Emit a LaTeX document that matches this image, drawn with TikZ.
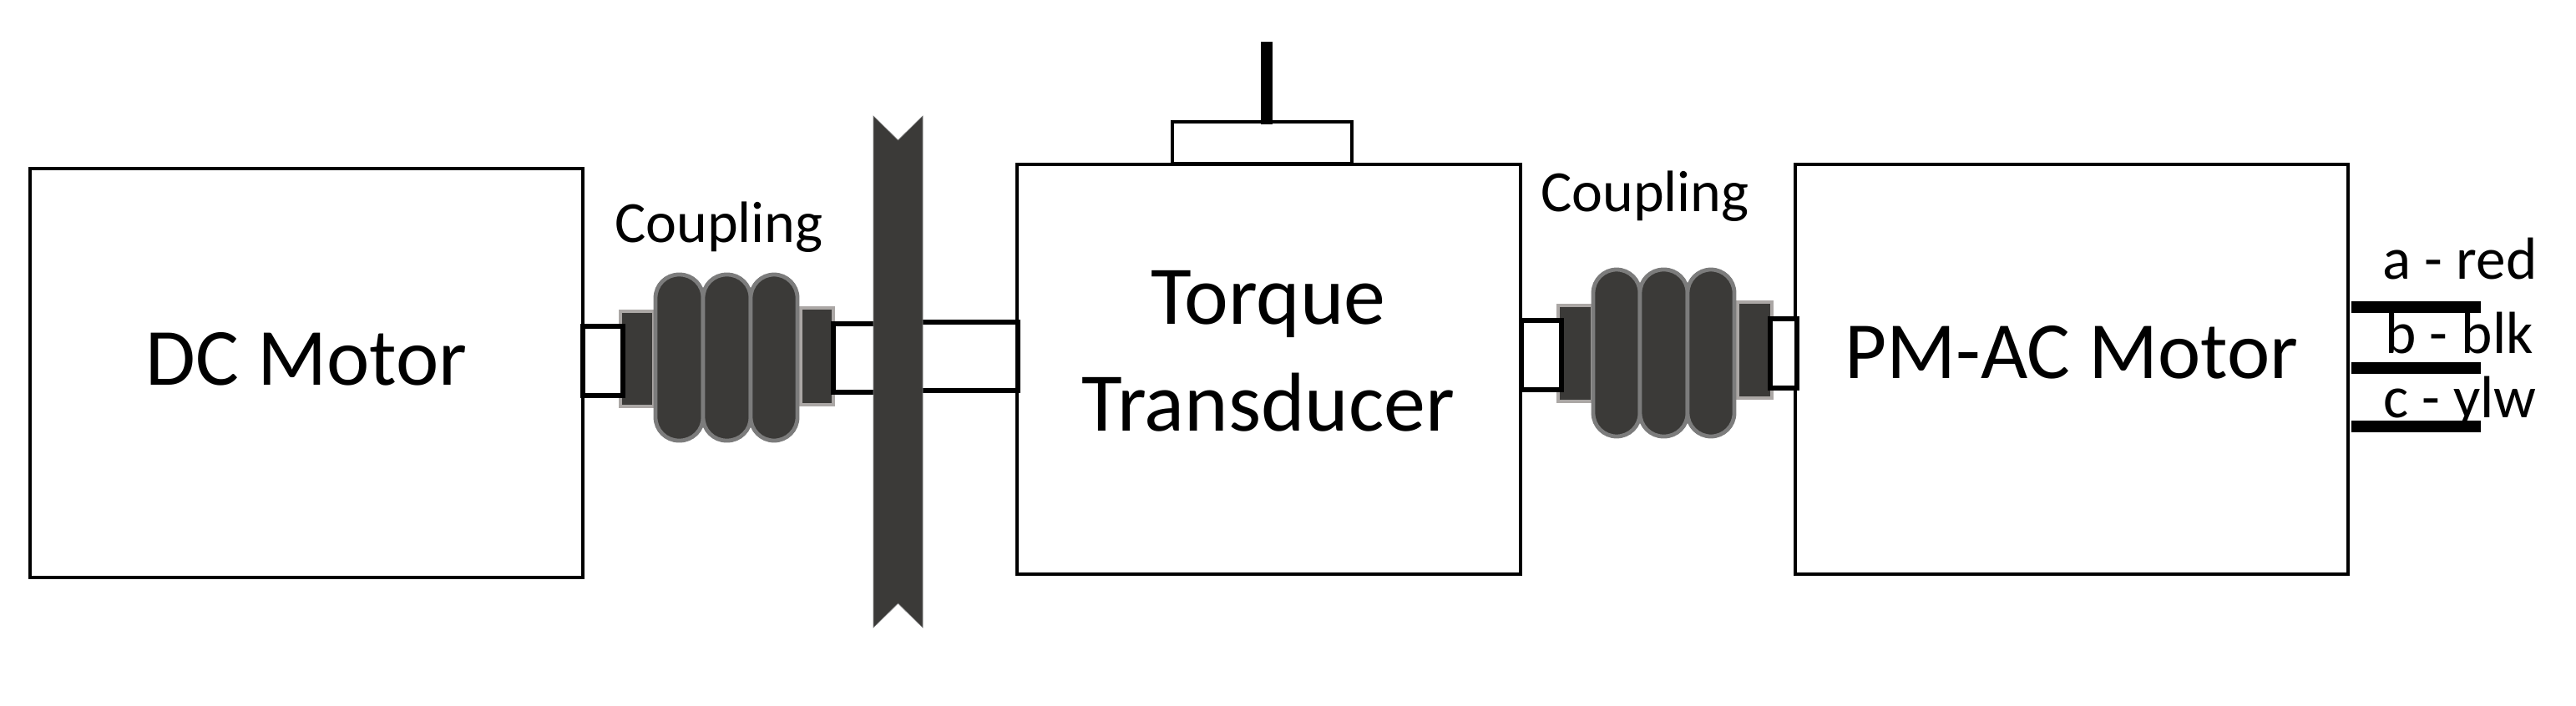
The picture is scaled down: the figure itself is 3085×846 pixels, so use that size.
\documentclass[tikz,border=0pt]{standalone}
\usepackage{fontspec}
\setmainfont{Carlito}
\definecolor{dark}{HTML}{3B3A38}
\definecolor{flangeline}{HTML}{ABA7A5}
\definecolor{lobeline}{HTML}{7C7C7C}
\tikzset{
  part/.style={rectangle,inner sep=0pt,outer sep=0pt},
  housing/.style={part,draw=black,line width=1.7pt,fill=white},
  shaft/.style={part,draw=black,line width=2.7pt,fill=white},
  flange/.style={part,draw=flangeline,line width=2.4pt,fill=dark},
  lobe/.style={part,draw=lobeline,line width=2.4pt,fill=dark,rounded corners=14pt},
  wire/.style={line width=7pt,black},
  stem/.style={line width=7.2pt,black},
  bigtext/.style={anchor=base,font=\fontsize{48.6}{58}\selectfont,inner sep=0pt},
  bigwide/.style={anchor=base,font=\fontsize{50}{60}\selectfont,inner sep=0pt},
  midtext/.style={anchor=base,font=\fontsize{35}{42}\selectfont,inner sep=0pt},
  smalltext/.style={anchor=base,font=\fontsize{35.6}{43}\selectfont,inner sep=0pt}
}
% name, style, x1, y1, x2, y2 in reference pixels
\newcommand{\blk}[6]{%
  \pgfmathsetmacro{\bw}{(#5-#3)*0.5}%
  \pgfmathsetmacro{\bh}{(#6-#4)*0.5}%
  \pgfmathsetmacro{\bx}{(#3+#5)/2}%
  \pgfmathsetmacro{\by}{(#4+#6)/2}%
  \node[#2,minimum width=\bw pt,minimum height=\bh pt] (#1) at (\bx,\by) {};}
\begin{document}
\begin{tikzpicture}[x=0.5pt,y=-0.5pt]
\useasboundingbox (0,0) rectangle (3085,846);
% housings
\blk{dc}{housing}{36}{202}{698}{692}
\blk{sensor}{housing}{1404}{146}{1619}{196}
\blk{tt}{housing}{1218}{197}{1821}{688}
\blk{pm}{housing}{2150}{197}{2812}{688}
% left coupling
\blk{fa}{flange}{743}{373}{783}{487}
\blk{fb}{flange}{959}{369}{998}{485}
\blk{la}{lobe}{785}{329}{842}{528}
\blk{lb}{lobe}{842}{329}{899}{528}
\blk{lc}{lobe}{899}{329}{955}{528}
\blk{sa}{shaft}{698}{391}{746}{474}
\blk{sb}{shaft}{998}{388}{1100}{470}
\blk{sc}{shaft}{1100}{386}{1219}{468}
% brake wall
\fill[dark,draw=lobeline,line width=0.3pt] (1046,139) -- (1075.5,168) -- (1105,139) -- (1105,752) -- (1075.5,723) -- (1046,752) -- cycle;
% right coupling
\blk{fc}{flange}{1866}{366}{1907}{481}
\blk{fd}{flange}{2081}{362}{2122}{477}
\blk{ld}{lobe}{1908}{323}{1964}{523}
\blk{le}{lobe}{1964}{323}{2021}{523}
\blk{lf}{lobe}{2021}{323}{2077}{523}
\blk{sd}{shaft}{1822}{384}{1870}{467}
\blk{se}{shaft}{2120}{382}{2152}{465}
% sensor stem
\coordinate (stemtop) at (1517,50);
\coordinate (stembot) at (1517,149);
\draw[stem] (stemtop) -- (stembot);
% labels
\node[bigtext] (dctext) at (367,461) {DC Motor};
\node[bigwide] (ttext) at (1519,388) {Torque};
\node[bigwide] (ttextb) at (1519,516) {Transducer};
\node[bigtext] (pmtext) at (2481,453) {PM-AC Motor};
\node[midtext] (ca) at (861,290) {Coupling};
\node[midtext] (cb) at (1970,253) {Coupling};
\node[smalltext] (ta) at (2946,334) {a - red};
\node[smalltext] (tb) at (2945,423) {b - blk};
\node[smalltext] (tc) at (2946,500) {c - ylw};
% phase wires
\coordinate (wa0) at (2816,368); \coordinate (wa1) at (2971,368);
\coordinate (wb0) at (2816,441); \coordinate (wb1) at (2971,441);
\coordinate (wc0) at (2816,511); \coordinate (wc1) at (2971,511);
\draw[wire] (wa0) -- (wa1);
\draw[wire] (wb0) -- (wb1);
\draw[wire] (wc0) -- (wc1);
\end{tikzpicture}
\end{document}
